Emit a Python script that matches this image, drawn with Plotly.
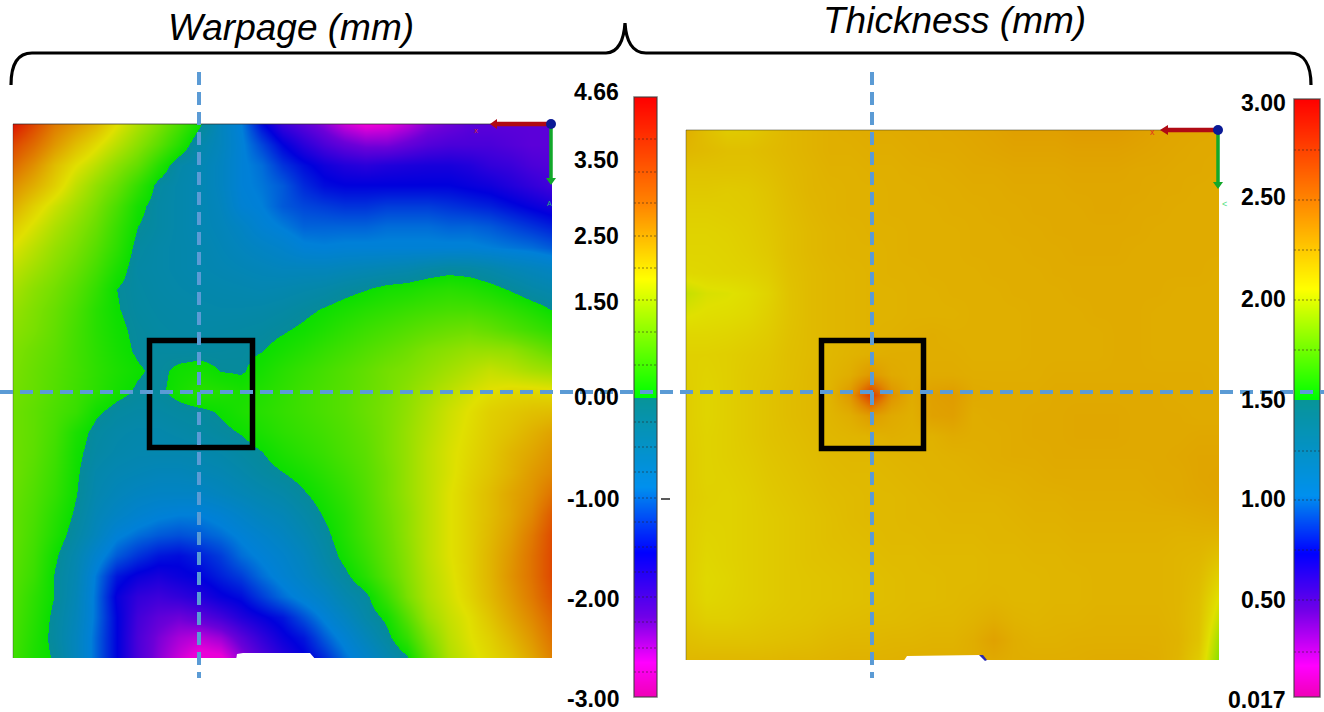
import numpy as np
import plotly.graph_objects as go

W, H = 1324, 712

# ---------- data (mm) ----------
warpage = [
 [4.6,3.9,3.2,2.8,2.4,1.85,1.4,1.0,0.55,0.05,-0.5,-0.9,-1.5,-1.9,-2.1,-2.3,-2.55,-2.7,-2.65,-2.5,-2.3,-2.2,-2.1,-2.1,-2.1,-2.1,-2.1],
 [3.9,3.4,2.8,2.3,1.9,1.5,1.1,0.7,0.25,-0.25,-0.5,-0.85,-1.2,-1.55,-1.8,-2.0,-2.15,-2.25,-2.25,-2.15,-2.05,-2.0,-2.0,-2.0,-2.05,-2.1,-2.1],
 [3.4,2.9,2.3,1.85,1.5,1.1,0.75,0.25,-0.2,-0.35,-0.55,-0.85,-1.0,-1.3,-1.5,-1.65,-1.75,-1.8,-1.75,-1.72,-1.7,-1.7,-1.75,-1.85,-1.9,-2.0,-2.05],
 [2.9,2.5,2.05,1.55,1.15,0.8,0.35,-0.1,-0.25,-0.35,-0.55,-0.85,-0.95,-1.1,-1.35,-1.5,-1.55,-1.55,-1.55,-1.55,-1.55,-1.55,-1.6,-1.65,-1.75,-1.85,-1.95],
 [2.5,2.05,1.65,1.3,0.95,0.55,0.1,-0.15,-0.25,-0.35,-0.5,-0.8,-0.9,-1.1,-1.2,-1.25,-1.3,-1.3,-1.25,-1.25,-1.25,-1.3,-1.35,-1.4,-1.5,-1.6,-1.7],
 [2.1,1.75,1.4,1.1,0.8,0.4,0.0,-0.15,-0.25,-0.35,-0.45,-0.6,-0.8,-0.92,-1.05,-1.05,-1.05,-1.05,-1.0,-1.0,-1.0,-1.05,-1.05,-1.1,-1.2,-1.3,-1.4],
 [1.8,1.5,1.2,0.95,0.65,0.3,-0.1,-0.2,-0.25,-0.3,-0.4,-0.5,-0.6,-0.7,-0.85,-0.88,-0.85,-0.85,-0.85,-0.85,-0.85,-0.85,-0.85,-0.9,-0.95,-1.0,-1.1],
 [1.55,1.3,1.05,0.8,0.5,0.15,-0.15,-0.2,-0.25,-0.3,-0.35,-0.4,-0.45,-0.5,-0.5,-0.5,-0.45,-0.4,-0.35,-0.3,-0.2,-0.12,-0.15,-0.25,-0.4,-0.5,-0.6],
 [1.35,1.1,0.9,0.65,0.35,0.0,-0.12,-0.18,-0.22,-0.25,-0.28,-0.3,-0.33,-0.3,-0.25,-0.2,-0.1,-0.02,0.08,0.12,0.2,0.25,0.2,0.1,-0.04,-0.2,-0.3],
 [1.2,1.0,0.8,0.55,0.25,0.02,-0.1,-0.15,-0.18,-0.2,-0.22,-0.22,-0.2,-0.15,-0.07,0.02,0.12,0.22,0.3,0.38,0.45,0.5,0.5,0.42,0.3,0.15,-0.02],
 [1.1,0.95,0.75,0.5,0.25,0.06,-0.06,-0.12,-0.15,-0.17,-0.15,-0.13,-0.1,-0.03,0.05,0.17,0.3,0.42,0.52,0.62,0.72,0.8,0.85,0.75,0.6,0.45,0.3],
 [1.0,0.85,0.7,0.48,0.28,0.1,-0.04,-0.08,-0.1,-0.1,-0.08,-0.06,-0.01,0.1,0.22,0.35,0.47,0.6,0.72,0.85,1.0,1.1,1.2,1.2,1.15,0.95,0.75],
 [0.95,0.8,0.65,0.48,0.3,0.15,0.03,-0.06,0.05,0.1,-0.01,-0.03,0.1,0.25,0.38,0.5,0.62,0.75,0.9,1.0,1.15,1.3,1.45,1.6,1.5,1.35,1.25],
 [0.9,0.78,0.62,0.45,0.28,0.1,-0.04,-0.06,0.1,0.25,0.2,0.12,0.2,0.32,0.45,0.55,0.65,0.78,0.92,1.1,1.3,1.5,1.7,1.85,1.95,1.95,1.9],
 [0.85,0.72,0.55,0.38,0.05,-0.1,-0.15,-0.15,-0.1,-0.06,0.03,0.15,0.25,0.35,0.45,0.55,0.65,0.8,0.95,1.15,1.4,1.65,1.85,2.05,2.15,2.25,2.3],
 [0.85,0.72,0.5,0.15,-0.1,-0.2,-0.25,-0.25,-0.2,-0.15,-0.07,0.02,0.15,0.28,0.38,0.48,0.6,0.75,0.95,1.2,1.45,1.7,1.9,2.1,2.25,2.45,2.65],
 [0.85,0.7,0.45,0.08,-0.15,-0.25,-0.3,-0.3,-0.3,-0.28,-0.22,-0.12,-0.01,0.15,0.28,0.4,0.55,0.7,0.95,1.2,1.5,1.75,1.95,2.15,2.4,2.6,2.85],
 [0.85,0.65,0.4,0.05,-0.25,-0.35,-0.4,-0.45,-0.45,-0.4,-0.35,-0.25,-0.12,-0.01,0.12,0.28,0.45,0.65,0.9,1.2,1.5,1.75,2.0,2.2,2.45,2.75,3.0],
 [0.8,0.6,0.35,0.02,-0.3,-0.45,-0.55,-0.6,-0.6,-0.6,-0.5,-0.4,-0.3,-0.2,-0.03,0.15,0.35,0.6,0.9,1.2,1.5,1.8,2.05,2.3,2.6,2.85,3.3],
 [0.75,0.55,0.25,-0.05,-0.4,-0.6,-0.75,-0.85,-0.9,-0.9,-0.8,-0.65,-0.5,-0.4,-0.2,0.03,0.25,0.55,0.85,1.15,1.5,1.8,2.05,2.3,2.6,3.0,3.65],
 [0.75,0.5,0.18,-0.15,-0.5,-0.85,-1.0,-1.1,-1.15,-1.1,-1.0,-0.85,-0.7,-0.55,-0.35,-0.1,0.2,0.5,0.8,1.15,1.5,1.8,2.05,2.35,2.7,3.2,3.85],
 [0.7,0.45,0.05,-0.3,-0.75,-1.1,-1.3,-1.45,-1.5,-1.4,-1.25,-1.0,-0.85,-0.7,-0.5,-0.2,0.1,0.4,0.75,1.1,1.5,1.8,2.05,2.4,2.8,3.3,3.9],
 [0.65,0.4,-0.02,-0.35,-0.95,-1.45,-1.62,-1.7,-1.62,-1.55,-1.4,-1.25,-1.0,-0.8,-0.6,-0.35,-0.08,0.25,0.65,1.05,1.45,1.75,2.05,2.4,2.85,3.3,3.9],
 [0.6,0.3,-0.01,-0.4,-1.0,-1.6,-1.85,-1.92,-1.85,-1.75,-1.6,-1.5,-1.25,-1.0,-0.8,-0.6,-0.3,-0.08,0.4,0.95,1.4,1.7,2.0,2.35,2.75,3.2,3.75],
 [0.55,0.25,-0.08,-0.45,-1.0,-1.55,-1.95,-2.12,-2.2,-2.1,-1.95,-1.75,-1.6,-1.45,-1.15,-0.85,-0.55,-0.2,0.08,0.65,1.25,1.6,1.85,2.2,2.6,3.0,3.5],
 [0.5,0.2,-0.1,-0.5,-1.05,-1.55,-2.0,-2.25,-2.42,-2.5,-2.38,-2.1,-1.85,-1.62,-1.45,-1.1,-0.8,-0.45,-0.1,0.35,1.0,1.5,1.8,2.05,2.4,2.8,3.3],
 [0.45,0.15,-0.03,-0.5,-1.05,-1.55,-2.0,-2.3,-2.55,-2.78,-2.72,-2.35,-2.05,-1.8,-1.6,-1.35,-1.0,-0.7,-0.35,-0.05,0.75,1.4,1.7,1.95,2.2,2.6,3.1],
]

thickness = [
 [2.30,2.22,2.16,2.17,2.22,2.26,2.28,2.30,2.31,2.32,2.32,2.33,2.33,2.34,2.35,2.36,2.38,2.38,2.38,2.40,2.40,2.40,2.38,2.36,2.35,2.34,2.33],
 [2.26,2.24,2.22,2.22,2.24,2.26,2.28,2.30,2.30,2.31,2.31,2.32,2.33,2.33,2.34,2.35,2.36,2.36,2.36,2.37,2.37,2.37,2.36,2.35,2.34,2.33,2.33],
 [2.20,2.20,2.20,2.20,2.22,2.25,2.27,2.29,2.29,2.30,2.30,2.31,2.31,2.32,2.33,2.33,2.34,2.34,2.34,2.35,2.35,2.35,2.34,2.34,2.33,2.33,2.32],
 [2.17,2.17,2.16,2.17,2.20,2.24,2.27,2.28,2.29,2.29,2.30,2.30,2.31,2.31,2.32,2.32,2.33,2.33,2.33,2.34,2.34,2.34,2.34,2.33,2.33,2.32,2.32],
 [2.14,2.14,2.15,2.16,2.19,2.23,2.26,2.28,2.29,2.29,2.30,2.30,2.30,2.31,2.31,2.32,2.32,2.33,2.33,2.33,2.34,2.34,2.33,2.33,2.32,2.32,2.32],
 [2.12,2.12,2.13,2.15,2.18,2.22,2.25,2.27,2.28,2.29,2.29,2.30,2.30,2.30,2.31,2.31,2.32,2.32,2.33,2.33,2.33,2.33,2.33,2.32,2.32,2.32,2.32],
 [2.11,2.11,2.12,2.14,2.17,2.22,2.25,2.27,2.28,2.28,2.29,2.30,2.30,2.30,2.31,2.31,2.31,2.32,2.32,2.33,2.33,2.33,2.32,2.32,2.32,2.32,2.32],
 [2.09,2.10,2.11,2.12,2.15,2.21,2.24,2.26,2.27,2.28,2.29,2.29,2.30,2.30,2.30,2.31,2.31,2.31,2.32,2.32,2.32,2.32,2.32,2.32,2.32,2.32,2.31],
 [1.98,2.03,2.04,2.07,2.12,2.20,2.24,2.26,2.27,2.28,2.28,2.29,2.29,2.30,2.30,2.30,2.31,2.31,2.31,2.32,2.32,2.32,2.32,2.32,2.31,2.31,2.31],
 [2.04,2.06,2.07,2.09,2.14,2.20,2.24,2.26,2.27,2.28,2.28,2.29,2.29,2.29,2.30,2.30,2.30,2.31,2.31,2.31,2.32,2.32,2.32,2.31,2.31,2.31,2.31],
 [2.10,2.10,2.11,2.13,2.16,2.21,2.24,2.26,2.27,2.28,2.29,2.30,2.31,2.30,2.30,2.30,2.30,2.31,2.31,2.31,2.31,2.32,2.32,2.31,2.31,2.31,2.31],
 [2.13,2.13,2.14,2.16,2.18,2.22,2.24,2.26,2.28,2.30,2.31,2.31,2.31,2.31,2.30,2.30,2.30,2.31,2.31,2.31,2.31,2.32,2.32,2.31,2.31,2.31,2.31],
 [2.14,2.12,2.14,2.17,2.19,2.22,2.25,2.27,2.31,2.42,2.33,2.31,2.32,2.32,2.31,2.31,2.31,2.31,2.32,2.32,2.32,2.32,2.32,2.32,2.32,2.32,2.31],
 [2.15,2.11,2.14,2.17,2.20,2.23,2.25,2.28,2.42,2.82,2.45,2.32,2.38,2.40,2.33,2.32,2.32,2.32,2.33,2.33,2.33,2.33,2.33,2.33,2.32,2.32,2.32],
 [2.15,2.11,2.14,2.17,2.20,2.23,2.25,2.27,2.31,2.40,2.33,2.30,2.37,2.38,2.31,2.32,2.32,2.33,2.33,2.34,2.34,2.34,2.33,2.33,2.33,2.32,2.32],
 [2.15,2.12,2.14,2.17,2.20,2.22,2.24,2.26,2.27,2.28,2.30,2.29,2.29,2.32,2.31,2.31,2.32,2.33,2.33,2.34,2.34,2.34,2.33,2.33,2.33,2.34,2.34],
 [2.16,2.12,2.14,2.16,2.19,2.21,2.23,2.25,2.26,2.26,2.27,2.28,2.28,2.29,2.30,2.31,2.32,2.32,2.33,2.33,2.33,2.33,2.33,2.33,2.34,2.35,2.35],
 [2.16,2.12,2.13,2.15,2.18,2.20,2.22,2.24,2.25,2.25,2.26,2.27,2.28,2.28,2.29,2.30,2.30,2.31,2.32,2.32,2.32,2.32,2.32,2.33,2.33,2.35,2.36],
 [2.16,2.13,2.12,2.14,2.17,2.19,2.21,2.23,2.24,2.25,2.25,2.26,2.27,2.28,2.28,2.28,2.29,2.30,2.30,2.31,2.31,2.31,2.31,2.32,2.33,2.34,2.35],
 [2.15,2.12,2.12,2.14,2.16,2.18,2.20,2.22,2.24,2.25,2.25,2.26,2.26,2.27,2.27,2.27,2.28,2.29,2.29,2.30,2.30,2.30,2.30,2.30,2.30,2.31,2.32],
 [2.15,2.11,2.12,2.14,2.16,2.18,2.20,2.22,2.23,2.24,2.25,2.25,2.26,2.26,2.26,2.27,2.27,2.28,2.28,2.29,2.29,2.29,2.29,2.29,2.28,2.28,2.27],
 [2.15,2.10,2.12,2.14,2.16,2.18,2.20,2.21,2.22,2.23,2.24,2.24,2.25,2.25,2.25,2.26,2.26,2.27,2.27,2.28,2.28,2.28,2.28,2.28,2.27,2.26,2.20],
 [2.15,2.09,2.11,2.14,2.16,2.18,2.19,2.20,2.21,2.22,2.23,2.24,2.24,2.25,2.25,2.26,2.26,2.26,2.27,2.27,2.28,2.28,2.28,2.28,2.27,2.24,2.12],
 [2.16,2.10,2.12,2.14,2.16,2.18,2.19,2.20,2.21,2.22,2.23,2.24,2.24,2.25,2.26,2.27,2.26,2.26,2.27,2.27,2.28,2.28,2.28,2.28,2.27,2.22,2.04],
 [2.18,2.14,2.14,2.16,2.18,2.19,2.20,2.22,2.23,2.24,2.24,2.25,2.26,2.26,2.28,2.31,2.28,2.27,2.28,2.28,2.29,2.29,2.29,2.29,2.27,2.21,1.97],
 [2.22,2.20,2.20,2.20,2.21,2.22,2.23,2.25,2.26,2.26,2.27,2.27,2.28,2.28,2.31,2.37,2.31,2.29,2.29,2.30,2.30,2.30,2.30,2.30,2.28,2.20,1.88],
 [2.26,2.26,2.26,2.26,2.26,2.27,2.27,2.28,2.29,2.29,2.29,2.30,2.30,2.30,2.31,2.33,2.31,2.31,2.31,2.31,2.32,2.32,2.32,2.31,2.27,2.16,1.82],
]

warp_min, warp_max, warp_break = -3.0, 4.66, 0.0
thick_min, thick_max, thick_break = 0.017, 3.0, 1.5

warp_labels = ["4.66","3.50","2.50","1.50","0.00","-1.00","-2.00","-3.00"]
thick_labels = ["3.00","2.50","2.00","1.50","1.00","0.50","0.017"]

# value -> colour anchors on each legend bar
warp_lvls  = [-3.0,-2.66,-2.2,-1.56,-0.9,0.0,0.0,1.83,3.0,4.66]
thick_lvls = [0.017,0.17,0.45,0.73,1.02,1.5,1.5,2.05,2.5,3.0]
bar_cols = ["#f000b8","#ff00ff","#7000e8","#0000ff","#0090ee","#089498","#00ff00","#ffff00","#ff8400","#ff0000"]
map_cols = ["#f000d0","#e800d8","#6c00d8","#0000dc","#0080d8","#068a9a","#0adf00","#e0e000","#e08800","#dd1000"]

def scale(lvls, cols, lo, hi):
    return [[(v-lo)/(hi-lo), c] for v, c in zip(lvls, cols)]

# ---------- pixel helpers ----------
def fx(x): return x/W
def fy(y): return 1-y/H
def dom_x(a,b): return [fx(a),fx(b)]
def dom_y(top,bot): return [fy(bot),fy(top)]

fig = go.Figure()

fig.add_trace(go.Heatmap(z=warpage, xaxis="x", yaxis="y", zmin=warp_min, zmax=warp_max,
    colorscale=scale(warp_lvls,map_cols,warp_min,warp_max), zsmooth="best", showscale=False, hoverinfo="skip"))
fig.add_trace(go.Heatmap(z=thickness, xaxis="x2", yaxis="y2", zmin=thick_min, zmax=thick_max,
    colorscale=scale(thick_lvls,map_cols,thick_min,thick_max), zsmooth="best", showscale=False, hoverinfo="skip"))

# legend ramps (two linear pieces, 300 px each)
warp_ramp = np.r_[np.linspace(warp_min,warp_break,300), np.linspace(warp_break,warp_max,300)]
thick_ramp = np.r_[np.linspace(thick_min,thick_break,298), np.linspace(thick_break,thick_max,300)]
fig.add_trace(go.Heatmap(z=warp_ramp.reshape(-1,1), xaxis="x3", yaxis="y3", zmin=warp_min, zmax=warp_max,
    colorscale=scale(warp_lvls,bar_cols,warp_min,warp_max), showscale=False, hoverinfo="skip"))
fig.add_trace(go.Heatmap(z=thick_ramp.reshape(-1,1), xaxis="x4", yaxis="y4", zmin=thick_min, zmax=thick_max,
    colorscale=scale(thick_lvls,bar_cols,thick_min,thick_max), showscale=False, hoverinfo="skip"))

hid = dict(visible=False, showgrid=False, zeroline=False, fixedrange=True)
n = len(warpage)-1
fig.update_layout(
    width=W, height=H, margin=dict(l=0,r=0,t=0,b=0), paper_bgcolor="white", plot_bgcolor="white",
    showlegend=False,
    xaxis =dict(domain=dom_x(13,552),  range=[0,n], anchor="y",  **hid),
    yaxis =dict(domain=dom_y(124,658), range=[n,0], anchor="x",  **hid),
    xaxis2=dict(domain=dom_x(686,1219),range=[0,n], anchor="y2", **hid),
    yaxis2=dict(domain=dom_y(130,660), range=[n,0], anchor="x2", **hid),
    xaxis3=dict(domain=dom_x(634,657), range=[-.5,.5], anchor="y3", **hid),
    yaxis3=dict(domain=dom_y(97,697),  range=[-.5,599.5], anchor="x3", **hid),
    xaxis4=dict(domain=dom_x(1294,1320),range=[-.5,.5], anchor="y4", **hid),
    yaxis4=dict(domain=dom_y(99,697),  range=[-.5,597.5], anchor="x4", **hid),
)

shapes, ann = [], []
def path(d_pts, **kw):
    shapes.append(dict(type="path", path=d_pts, xref="paper", yref="paper", **kw))
def P(x,y): return f"{fx(x):.5f},{fy(y):.5f}"
def line(x0,y0,x1,y1,color,width,dash="solid"):
    shapes.append(dict(type="line", xref="paper", yref="paper", x0=fx(x0), x1=fx(x1), y0=fy(y0), y1=fy(y1),
                       line=dict(color=color,width=width,dash=dash)))
def rect(x0,y0,x1,y1,lc,lw,fill="rgba(0,0,0,0)"):
    shapes.append(dict(type="rect", xref="paper", yref="paper", x0=fx(x0), x1=fx(x1), y0=fy(y0), y1=fy(y1),
                       line=dict(color=lc,width=lw), fillcolor=fill))
def text(x,y,s,size,anchor="center",color="black",bold=False,italic=False,family="Liberation Sans"):
    ann.append(dict(x=fx(x),y=fy(y),xref="paper",yref="paper",text=s,showarrow=False,xanchor=anchor,yanchor="middle",
                    font=dict(size=size,color=color,family=family,weight=700 if bold else 400,
                              style="italic" if italic else "normal")))

# missing notch at the bottom edge of each panel
path("M"+P(236,660)+"L"+P(237,654)+"L"+P(243,653)+"L"+P(310,653)+"L"+P(316,660)+"Z", fillcolor="white", line=dict(width=0))
path("M"+P(903,662)+"L"+P(907,656)+"L"+P(980,655)+"L"+P(987,662)+"Z", fillcolor="white", line=dict(width=0))
path("M"+P(979,655)+"L"+P(983,655)+"L"+P(987,660)+"L"+P(985,661)+"Z", fillcolor="#2a2ab0", line=dict(width=0))

# panel hairlines
line(13,124,552,124,"rgba(40,40,40,.7)",1)
line(13,124,13,658,"rgba(40,40,40,.35)",1)
line(686,130,1219,130,"rgba(60,60,40,.5)",1)
line(686,130,686,660,"rgba(40,40,40,.4)",1)

# legend dashes + frame
for y in [139,172,203,236,268,300,332,365,422,447,472,498,522,547,572,597,622,648,672]:
    line(634,y,657,y,"rgba(40,30,30,.55)",1,"2px,2px")
for y in [150,200,250,300,350,451,500,550,600,652]:
    line(1294,y,1320,y,"rgba(40,30,30,.55)",1,"2px,2px")
rect(634,97,657,697,"rgba(60,60,60,.7)",1.5)
rect(1294,99,1320,697,"rgba(60,60,60,.7)",1.5)
line(661,499,670,499,"black",1.3)

# coordinate triads
for x0,y0,xh,xt,yh,yt in [(551,124,497,490,178,185),(1218,130,1168,1160,182,189)]:
    line(x0,y0,xh,y0,"#b00a14",4.5)
    path("M"+P(xh,y0-5)+"L"+P(xt,y0)+"L"+P(xh,y0+5)+"Z", fillcolor="#b00a14", line=dict(width=0))
    line(x0,y0,x0,yh,"#12a82a",3.5)
    path("M"+P(x0-5,yh)+"L"+P(x0,yt)+"L"+P(x0+5,yh)+"Z", fillcolor="#12a82a", line=dict(width=0))
    shapes.append(dict(type="circle",xref="paper",yref="paper",x0=fx(x0-5),x1=fx(x0+5),y0=fy(y0+5),y1=fy(y0-5),
                       fillcolor="#0a1a96",line=dict(width=0)))
text(476,130,"x",8,color="#d03030")
text(549,203,"A",7,color="#30b080")
text(1152,132,"x",9,color="#e03020")
text(1224,204,"&lt;",9,color="#50e080")

# black squares
rect(149.5,340.5,252.5,447.5,"black",5.5)
rect(821.5,340.5,923.5,448.5,"black",5.5)

# dashed section lines
blue = "#5b9bd5"
dash = "13px,7px"
line(0,392,W,392,blue,4,dash)
line(199,72,199,678,blue,4,dash)
line(872,72,872,678,blue,4,dash)

# brace
shapes.append(dict(type="path", xref="paper", yref="paper", line=dict(color="black",width=3.2),
    path="M"+P(11,85)+"C"+P(11,65)+" "+P(17,53)+" "+P(32,53)+"L"+P(606,53)+"C"+P(618,53)+" "+P(624,40)+" "+P(625,23)
    +"C"+P(626,40)+" "+P(632,53)+" "+P(646,53)+"L"+P(1290,53)+"C"+P(1304,53)+" "+P(1311,65)+" "+P(1311,85)))

# titles
text(291,28,"Warpage (mm)",37,italic=True)
text(954,21,"Thickness (mm)",37,italic=True)

# legend labels
for s,y in zip(warp_labels,[92,160,236,302,397,499,599,699]):
    text(621,y,s,23,anchor="right",bold=True)
for s,y in zip(thick_labels,[103,197,299,400,499,600,700]):
    text(1288,y,s,23,anchor="right",bold=True)

fig.update_layout(shapes=shapes, annotations=ann)
fig.write_html("out.html", config=dict(displayModeBar=False),
               post_script="document.body.style.margin='0';document.body.style.overflow='hidden';")
